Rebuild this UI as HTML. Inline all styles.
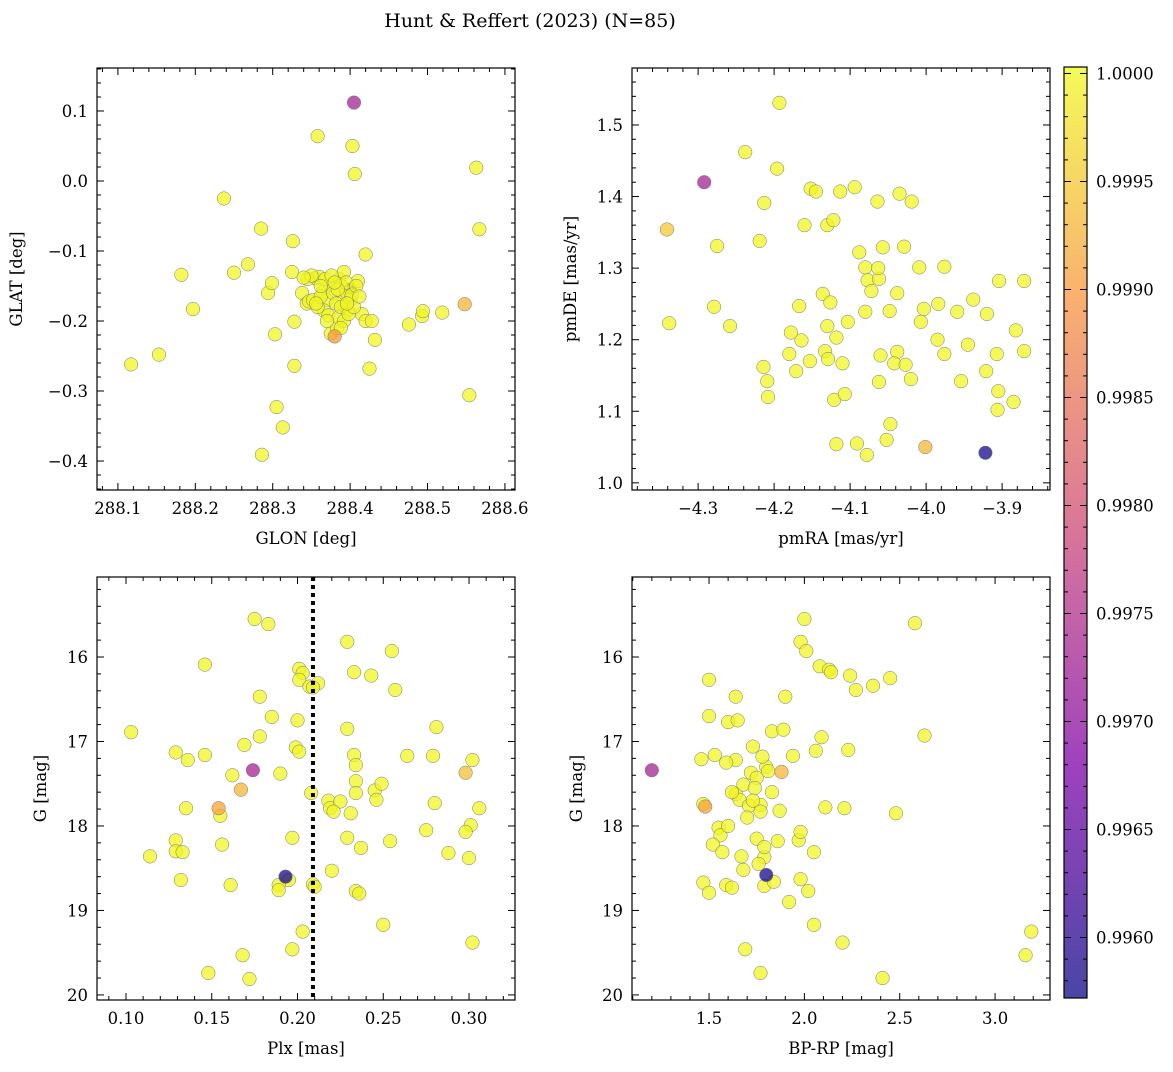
<!DOCTYPE html>
<html><head><meta charset="utf-8">
<style>
html,body{margin:0;padding:0;background:#fff;}
svg text{font-family:"DejaVu Serif","Liberation Serif",serif;fill:#000;}
</style></head>
<body>
<svg id="fig" width="1173" height="1067" viewBox="0 0 1173 1067" xmlns="http://www.w3.org/2000/svg">
<text x="530" y="27" font-size="19" text-anchor="middle">Hunt &amp; Reffert (2023) (N=85)</text>
</svg>
<script>
// ---- data ----
const p1_glon=[288.400,288.117,288.153,288.182,288.197,288.237,288.250,288.268,288.285,288.294,288.299,288.303,288.305,288.313,288.286,288.326,288.325,288.328,288.328,288.338,288.344,288.347,288.358,288.355,288.360,288.365,288.370,288.374,288.366,288.372,288.375,288.383,288.386,288.388,288.390,288.392,288.394,288.397,288.396,288.400,288.403,288.406,288.410,288.415,288.420,288.420,288.425,288.428,288.432,288.476,288.493,288.494,288.519,288.554,288.563,288.567,288.345,288.350,288.352,288.358,288.362,288.368,288.378,288.382,288.385,288.388,288.392,288.395,288.398,288.402,288.405,288.408,288.412,288.370,288.362,288.376,288.384,288.396,288.356,288.340,288.388,288.380,288.380,288.548,288.405];
const p1_glat=[-0.155,-0.262,-0.248,-0.134,-0.183,-0.025,-0.131,-0.119,-0.068,-0.160,-0.146,-0.219,-0.323,-0.352,-0.391,-0.086,-0.130,-0.201,-0.264,-0.160,-0.175,-0.172,0.064,-0.139,-0.137,-0.158,-0.170,-0.148,-0.185,-0.192,-0.218,-0.210,-0.140,-0.150,-0.165,-0.130,-0.178,-0.185,-0.160,-0.170,0.050,0.010,-0.143,-0.190,-0.200,-0.105,-0.268,-0.200,-0.227,-0.205,-0.193,-0.186,-0.188,-0.306,0.019,-0.069,-0.140,-0.135,-0.170,-0.180,-0.165,-0.140,-0.160,-0.175,-0.195,-0.180,-0.200,-0.145,-0.190,-0.163,-0.180,-0.150,-0.165,-0.200,-0.150,-0.135,-0.155,-0.175,-0.175,-0.138,-0.210,-0.145,-0.222,-0.176,0.112];
const p1_prob=[];for(let i=0;i<p1_glon.length;i++)p1_prob.push(1);
p1_prob[0]=0.9958;p1_prob[82]=0.9990;p1_prob[83]=0.9993;p1_prob[84]=0.9973;

const p2_pmra=[-4.193,-4.238,-4.196,-4.213,-4.275,-4.219,-4.338,-4.279,-4.258,-4.152,-4.145,-4.113,-4.094,-4.160,-4.130,-4.122,-4.064,-4.035,-4.019,-4.088,-4.080,-4.077,-4.057,-4.062,-4.038,-4.009,-3.976,-3.904,-3.938,-3.871,-4.136,-4.126,-4.130,-4.167,-4.118,-4.164,-4.180,-4.171,-4.133,-4.129,-4.110,-4.048,-4.080,-4.060,-4.038,-4.042,-4.027,-4.062,-4.020,-3.985,-3.959,-3.920,-4.003,-3.907,-3.871,-3.882,-3.885,-4.214,-4.209,-4.208,-4.178,-4.121,-4.107,-4.118,-4.047,-4.078,-4.052,-3.906,-3.905,-3.921,-3.954,-3.976,-4.091,-4.072,-4.103,-4.029,-3.984,-4.153,-4.063,-4.007,-3.945,-4.292,-4.341,-4.001,-3.922];
const p2_pmde=[1.531,1.462,1.439,1.391,1.331,1.338,1.223,1.246,1.219,1.411,1.407,1.407,1.413,1.360,1.360,1.367,1.393,1.404,1.393,1.322,1.301,1.283,1.329,1.285,1.265,1.301,1.302,1.282,1.256,1.282,1.264,1.252,1.219,1.247,1.203,1.199,1.180,1.156,1.184,1.173,1.167,1.240,1.239,1.178,1.183,1.167,1.165,1.141,1.145,1.200,1.239,1.236,1.243,1.180,1.184,1.213,1.113,1.162,1.142,1.120,1.210,1.116,1.124,1.054,1.082,1.039,1.060,1.102,1.128,1.156,1.142,1.180,1.055,1.268,1.225,1.330,1.250,1.170,1.300,1.225,1.193,1.420,1.354,1.050,1.042];
const p2_prob=[];for(let i=0;i<p2_pmra.length;i++)p2_prob.push(1);
p2_prob[81]=0.9973;p2_prob[82]=0.9995;p2_prob[83]=0.9993;p2_prob[84]=0.9958;

const p3_plx=[0.103,0.175,0.183,0.146,0.178,0.185,0.178,0.201,0.203,0.201,0.207,0.212,0.229,0.233,0.243,0.255,0.257,0.200,0.199,0.201,0.169,0.129,0.136,0.146,0.162,0.190,0.229,0.234,0.234,0.233,0.234,0.135,0.155,0.156,0.208,0.218,0.219,0.225,0.221,0.231,0.245,0.246,0.249,0.264,0.281,0.279,0.280,0.275,0.302,0.306,0.301,0.298,0.288,0.300,0.254,0.229,0.237,0.197,0.220,0.129,0.129,0.133,0.114,0.132,0.161,0.195,0.189,0.189,0.209,0.234,0.236,0.203,0.197,0.250,0.168,0.172,0.148,0.302,0.210,0.209,0.154,0.167,0.298,0.174,0.193];
const p3_g=[16.89,15.55,15.61,16.09,16.47,16.71,16.94,16.14,16.19,16.27,16.35,16.31,15.82,16.18,16.22,15.93,16.39,16.75,17.07,17.12,17.04,17.13,17.22,17.16,17.40,17.38,16.85,17.47,17.61,17.16,17.28,17.79,17.88,18.22,17.61,17.70,17.79,17.71,17.83,17.85,17.58,17.69,17.50,17.17,16.83,17.17,17.73,18.05,17.22,17.79,17.99,18.07,18.32,18.38,18.18,18.14,18.26,18.14,18.53,18.17,18.30,18.31,18.36,18.64,18.70,18.64,18.70,18.76,18.69,18.77,18.80,19.25,19.46,19.17,19.53,19.81,19.74,19.38,18.72,16.36,17.79,17.57,17.37,17.34,18.60];
const p3_prob=[];for(let i=0;i<p3_plx.length;i++)p3_prob.push(1);
p3_prob[80]=0.9991;p3_prob[81]=0.9993;p3_prob[82]=0.9994;p3_prob[83]=0.9973;p3_prob[84]=0.9958;

const p4_bprp=[1.50,1.50,1.46,1.47,1.53,1.55,1.56,1.52,1.57,1.47,1.50,1.60,1.64,1.65,1.64,1.64,1.66,1.68,1.59,1.62,1.67,1.68,1.71,1.73,1.72,1.75,1.77,1.77,1.75,1.69,1.77,1.79,1.79,1.79,1.84,1.80,1.78,1.83,1.89,1.90,1.87,1.86,1.94,1.97,1.98,1.98,2.02,2.05,1.98,2.00,2.01,2.05,2.06,2.08,2.13,2.14,2.20,2.21,2.23,2.24,2.11,2.27,2.36,2.41,2.45,2.48,2.58,2.63,3.19,3.16,1.59,1.62,1.70,1.74,1.81,1.76,2.09,1.83,1.92,1.60,1.73,1.20,1.48,1.88,1.80];
const p4_g=[16.27,16.70,17.21,17.74,17.16,18.02,18.11,18.22,18.31,18.67,18.79,16.77,16.47,16.75,17.22,17.62,17.69,17.51,18.70,18.73,18.36,18.52,17.76,17.06,17.37,17.43,17.75,17.83,18.15,19.46,19.74,18.37,18.25,18.71,18.66,17.30,17.18,16.88,16.86,16.47,17.82,18.18,17.17,18.17,18.07,18.63,18.77,19.17,15.82,15.55,15.93,18.31,17.11,16.11,16.15,16.18,19.38,17.79,17.10,16.22,17.78,16.39,16.34,19.80,16.25,17.85,15.60,16.93,19.25,19.53,17.25,17.60,17.90,17.55,17.35,18.45,16.95,17.60,18.90,18.00,17.70,17.34,17.77,17.36,18.58];
const p4_prob=[];for(let i=0;i<p4_bprp.length;i++)p4_prob.push(1);
p4_prob[81]=0.9973;p4_prob[82]=0.9991;p4_prob[83]=0.9993;p4_prob[84]=0.9958;

const cbTicks=[0.9960,0.9965,0.9970,0.9975,0.9980,0.9985,0.9990,0.9995,1.0000];
const plxLine=0.209;
const VMIN=0.99572, VMAX=1.00003;

// ---- helpers ----
const NS="http://www.w3.org/2000/svg";
const svg=document.getElementById('fig');
function mk(tag,attrs,parent){const e=document.createElementNS(NS,tag);for(const k in attrs)e.setAttribute(k,attrs[k]);(parent||svg).appendChild(e);return e;}
const stops=[[0,[13,8,135]],[0.25,[126,3,168]],[0.5,[204,71,120]],[0.75,[248,149,64]],[1,[240,249,33]]];
function plasma(t){t=Math.max(0,Math.min(1,t));for(let i=1;i<stops.length;i++){if(t<=stops[i][0]){const a=stops[i-1],b=stops[i];const f=(t-a[0])/(b[0]-a[0]);const c=a[1].map((v,j)=>Math.round(v+(b[1][j]-v)*f));return `rgb(${c[0]},${c[1]},${c[2]})`;}}return 'rgb(240,249,33)';}
function fmt(v,d){let s=v.toFixed(d);if(v<0)s='\u2212'+s.slice(1);return s;}

function panel(o){
  const g=mk('g',{});
  
  
  const sx=v=>o.L+(v-o.x0)/(o.x1-o.x0)*(o.R-o.L);
  const sy=v=>o.T+(v-o.y0)/(o.y1-o.y0)*(o.B-o.T);
  o.xs.forEach((_,i)=>{
    const c=mk('circle',{cx:sx(o.xs[i]),cy:sy(o.ys[i]),r:6.8,fill:plasma((o.c[i]-VMIN)/(VMAX-VMIN)),'fill-opacity':0.75,stroke:'#777','stroke-width':0.5},g);
    
    
  });
  if(o.vline!==undefined){
    const l=mk('line',{x1:sx(o.vline),x2:sx(o.vline),y1:o.T,y2:o.B,stroke:'#000','stroke-width':4,'stroke-dasharray':'4,4'},g);
    
    
  }
  const xt=mk('g',{},g);
  
  
  const xlo=Math.min(o.x0,o.x1),xhi=Math.max(o.x0,o.x1);
  for(let k=Math.ceil(xlo/o.xmin-1e-6);k*o.xmin<=xhi+1e-9;k++){
    const v=k*o.xmin;const X=sx(v);
    const major=Math.abs(v/o.xmaj-Math.round(v/o.xmaj))<1e-6;
    const len=major?7:4;
    mk('line',{x1:X,x2:X,y1:o.B,y2:o.B-len,stroke:'#000','stroke-width':1},xt);
    mk('line',{x1:X,x2:X,y1:o.T,y2:o.T+len,stroke:'#000','stroke-width':1},xt);
    if(major){const t=mk('text',{x:X,y:o.B+24,'font-size':16.5,'text-anchor':'middle'},xt);t.textContent=fmt(v,o.xd);}
  }
  const ylo=Math.min(o.y0,o.y1),yhi=Math.max(o.y0,o.y1);
  const yt=mk('g',{},g);
  
  
  for(let k=Math.ceil(ylo/o.ymin-1e-6);k*o.ymin<=yhi+1e-9;k++){
    const v=k*o.ymin;const Y=sy(v);
    const major=Math.abs(v/o.ymaj-Math.round(v/o.ymaj))<1e-6;
    const len=major?7:4;
    mk('line',{x1:o.L,x2:o.L+len,y1:Y,y2:Y,stroke:'#000','stroke-width':1},yt);
    mk('line',{x1:o.R,x2:o.R-len,y1:Y,y2:Y,stroke:'#000','stroke-width':1},yt);
    if(major){const t=mk('text',{x:o.L-9,y:Y+6,'font-size':16.5,'text-anchor':'end'},yt);t.textContent=fmt(v,o.yd);}
  }
  mk('rect',{x:o.L,y:o.T,width:o.R-o.L,height:o.B-o.T,fill:'none',stroke:'#000','stroke-width':1.2},g);
  const xl=mk('text',{x:(o.L+o.R)/2,y:o.B+54,'font-size':16.5,'text-anchor':'middle'},g);
  xl.textContent=o.xlabel;
  
  
  const yx=o.ylx, yy=(o.T+o.B)/2;
  const yl=mk('text',{x:yx,y:yy,'font-size':16.5,'text-anchor':'middle',transform:`rotate(-90 ${yx} ${yy})`},g);
  yl.textContent=o.ylabel;
  
  
}

panel({name:'glon-glat-panel',L:97,R:515,T:68,B:490,x0:288.073,x1:288.613,y0:0.1614,y1:-0.4414,xs:p1_glon,ys:p1_glat,c:p1_prob,xmaj:0.1,xmin:0.02,ymaj:0.1,ymin:0.02,xd:1,yd:1,xlabel:'GLON [deg]',ylabel:'GLAT [deg]',ylx:22});
panel({name:'pm-panel',L:632,R:1050,T:68,B:490,x0:-4.387,x1:-3.837,y0:1.5796,y1:0.990,xs:p2_pmra,ys:p2_pmde,c:p2_prob,xmaj:0.1,xmin:0.02,ymaj:0.1,ymin:0.02,xd:1,yd:1,xlabel:'pmRA [mas/yr]',ylabel:'pmDE [mas/yr]',ylx:576});
panel({name:'plx-g-panel',L:97,R:515,T:577,B:1000,x0:0.0831,x1:0.3268,y0:15.053,y1:20.06,xs:p3_plx,ys:p3_g,c:p3_prob,xmaj:0.05,xmin:0.01,ymaj:1,ymin:0.2,xd:2,yd:0,xlabel:'Plx [mas]',ylabel:'G [mag]',ylx:46,vline:plxLine});
panel({name:'cmd-panel',L:632,R:1050,T:577,B:1000,x0:1.096,x1:3.288,y0:15.053,y1:20.06,xs:p4_bprp,ys:p4_g,c:p4_prob,xmaj:0.5,xmin:0.1,ymaj:1,ymin:0.2,xd:1,yd:0,xlabel:'BP-RP [mag]',ylabel:'G [mag]',ylx:582});

// colorbar
const cb=mk('g',{});


const defs=mk('defs',{},cb);
const grad=mk('linearGradient',{id:'pg',x1:0,y1:1,x2:0,y2:0},defs);
for(let i=0;i<=20;i++){mk('stop',{offset:i/20,'stop-color':plasma(i/20),'stop-opacity':0.75},grad);}
const CT=67,CB=998,CL=1064,CR=1087;
mk('rect',{x:CL,y:CT,width:CR-CL,height:CB-CT,fill:'url(#pg)',stroke:'#000','stroke-width':1.2},cb);
const cy=v=>CB-(v-VMIN)/(VMAX-VMIN)*(CB-CT);
for(let v=0.9958;v<=1.00003;v+=0.0001){
  const Y=cy(v);if(Y<CT||Y>CB)continue;
  const major=Math.abs(v/0.0005-Math.round(v/0.0005))<1e-4;
  const len=major?7:4;
  mk('line',{x1:CR,x2:CR-len,y1:Y,y2:Y,stroke:'#000','stroke-width':1},cb);
  mk('line',{x1:CL,x2:CL+len,y1:Y,y2:Y,stroke:'#000','stroke-width':1},cb);
}
cbTicks.forEach(v=>{
  const t=mk('text',{x:CR+9,y:cy(v)+6,'font-size':16.5},cb);
  t.textContent=v.toFixed(4);
  
  
});
</script>
</body></html>
